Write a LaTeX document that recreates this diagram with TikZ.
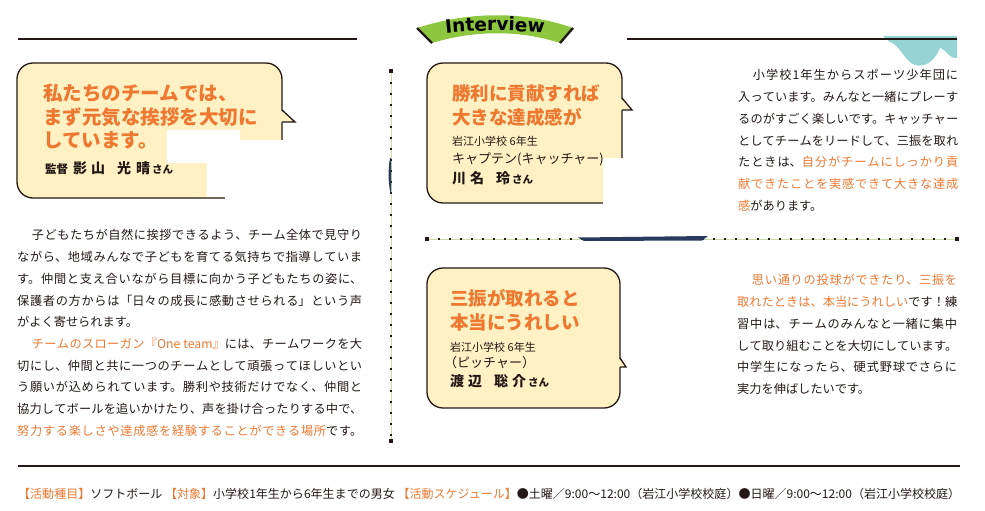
\documentclass[tikz,border=0pt]{standalone}
\usepackage{fontspec}
\usepackage{graphicx}
\setmainfont{Noto Sans CJK JP}
\newfontfamily\bannerfont{DejaVu Sans Bold}
\usetikzlibrary{decorations.text}
\XeTeXlinebreaklocale "ja"
\XeTeXlinebreakskip=0pt plus 1.5pt minus 0.6pt
\definecolor{accent}{RGB}{238,120,48}
\definecolor{bubblefill}{RGB}{255,241,196}
\definecolor{inkblack}{RGB}{35,24,21}
\definecolor{bannergreen}{RGB}{141,198,63}
\definecolor{dotgreen}{RGB}{200,222,160}
\definecolor{splash}{RGB}{150,212,212}
\definecolor{photoblue}{RGB}{40,58,95}
\newcommand\hl[1]{\textcolor{accent}{#1}}
\tikzset{
  bubble/.style={draw=inkblack, line width=1.3pt, fill=bubblefill, rounded corners=16pt},
  tailfill/.style={fill=bubblefill},
  tailline/.style={draw=inkblack, line width=1.3pt, line join=miter},
  cutout/.style={fill=white},
  rule/.style={draw=inkblack, line width=1.7pt},
  bannerend/.style={draw=inkblack, line width=2.4pt},
  dotline/.style={draw=dotgreen, line width=0.7pt},
  dots/.style={draw=inkblack, line width=2.4pt, dash pattern=on 2.4pt off 8.6pt},
  dotend/.style={fill=inkblack, inner sep=0pt, minimum size=4pt},
  title/.style={anchor=base west, inner sep=0pt, text=accent, font=\fontsize{18.5}{22}\selectfont\bfseries},
  grade/.style={anchor=base west, inner sep=0pt, text=inkblack, font=\fontsize{11}{13}\selectfont},
  role/.style={anchor=base west, inner sep=0pt, text=inkblack, font=\fontsize{13}{15}\selectfont},
  person/.style={anchor=base west, inner sep=0pt, text=inkblack, font=\fontsize{14}{16}\selectfont\bfseries},
  para/.style={anchor=north west, inner sep=0pt, text=inkblack, align=justify,
    font=\fontsize{12.2}{21.7}\selectfont,
    execute at begin node={\tolerance=10000 \parskip=0pt\relax}},
}
\begin{document}
\begin{tikzpicture}[x=1pt, y=-1pt]
  \useasboundingbox (0,0) rectangle (985,511);

  % header rules and banner
  \fill[splash] (883,36) -- (957,36) -- (957,58) .. controls (951,60) and (946,50) .. (940,48)
    .. controls (935,60) and (926,68) .. (915,65) .. controls (905,62) and (900,45) .. (890,42) -- cycle;
  \draw[rule] (18,39) -- (357,39);
  \draw[rule] (627,39) -- (957,39);
  \fill[bannergreen] (417,28) .. controls (470,11) and (525,11) .. (573,28) -- (560,43)
    .. controls (520,30) and (475,30) .. (432,43) -- cycle;
  \draw[bannerend] (417,28) -- (432,43);
  \draw[bannerend] (573,28) -- (560,43);
  \path[decorate, decoration={text along path, text align=center,
      text={|\bannerfont\fontsize{18.5}{18.5}\selectfont|Interview}}]
    (426,36) .. controls (470,29) and (522,29) .. (564,36);

  % separators
  \coordinate (sepTop) at (391,71);
  \coordinate (sepBot) at (391,441);
  \coordinate (midLeft) at (427,239);
  \coordinate (midRight) at (957,239);
  \draw[dotline] (sepTop) -- (sepBot);
  \draw[dots] (sepTop) -- (sepBot);
  \node[dotend] (sepTopEnd) at (sepTop) {};
  \node[dotend] (sepBotEnd) at (sepBot) {};
  \draw[dotline] (midLeft) -- (midRight);
  \draw[dots] (midLeft) -- (midRight);
  \node[dotend] (midLeftEnd) at (midLeft) {};
  \node[dotend] (midRightEnd) at (midRight) {};
  \fill[photoblue] (578,237.5) -- (708,236) -- (702,240.5) -- (584,241) -- cycle;
  \fill[photoblue] (390,158) .. controls (388,170) and (388,182) .. (390.5,193) -- (391,193) -- (391,158) -- cycle;

  % coach bubble
  \draw[bubble] (17,63) rectangle (282,198);
  \fill[tailfill] (280.4,110) -- (295,122) -- (280.4,122) -- cycle;
  \draw[tailline] (282,110) -- (295,122) -- (282,122);
  \node[title, font=\fontsize{19.5}{23}\selectfont\bfseries] (coachT1) at (43,100.5) {私たちのチームでは、};
  \node[title, font=\fontsize{19.5}{23}\selectfont\bfseries] (coachT2) at (43,124) {まず元気な挨拶を大切に};
  \node[title, font=\fontsize{19.5}{23}\selectfont\bfseries] (coachT3) at (43,147.5) {しています。};
  \node[person] (coachName) at (45,173) {{\fontsize{11.5}{13}\selectfont 監督}\hspace{5pt}影\hspace{4pt}山\hspace{12pt}光\hspace{5pt}晴\hspace{2pt}{\fontsize{10.5}{12}\selectfont さん}};
  \fill[cutout] (167,130) rectangle (240,163);
  \fill[cutout] (240,140) rectangle (300,210);
  \fill[cutout] (207,163) rectangle (240,196.6);
  \fill[cutout] (225,196) rectangle (240,210);

  % captain bubble
  \draw[bubble] (427,63) rectangle (622,203);
  \fill[tailfill] (620.4,98) -- (632,110) -- (620.4,110) -- cycle;
  \draw[tailline] (622,98) -- (632,110) -- (622,110);
  \node[title] (captT1) at (452,100) {勝利に貢献すれば};
  \node[title] (captT2) at (452,124) {大きな達成感が};
  \node[grade] (captGrade) at (452,145) {岩江小学校 6年生};
  \node[role] (captRole) at (452,163) {キャプテン(キャッチャー)};
  \node[person] (captName) at (452,183) {川\hspace{4pt}名\hspace{12pt}玲\hspace{2pt}{\fontsize{10.5}{12}\selectfont さん}};
  \fill[cutout] (603,158) rectangle (640,212);

  % pitcher bubble
  \draw[bubble] (427,268) rectangle (620,408);
  \fill[tailfill] (618.4,358) -- (626,367) -- (618.4,367) -- cycle;
  \draw[tailline] (620,358) -- (626,367) -- (620,367);
  \node[title] (pitchT1) at (450,305) {三振が取れると};
  \node[title] (pitchT2) at (450,329) {本当にうれしい};
  \node[grade] (pitchGrade) at (450,351) {岩江小学校 6年生};
  \node[role] (pitchRole) at (444,367) {（ピッチャー）};
  \node[person] (pitchName) at (450,386) {渡\hspace{4pt}辺\hspace{12pt}聡\hspace{4pt}介\hspace{2pt}{\fontsize{10.5}{12}\selectfont さん}};

  % body texts
  \node[para, text width=345pt] (coachText) at (17,229.4) {%
    \hspace*{1.2em}子どもたちが自然に挨拶できるよう、チーム全体で見守り\linebreak
    ながら、地域みんなで子どもを育てる気持ちで指導していま\linebreak
    す。仲間と支え合いながら目標に向かう子どもたちの姿に、\linebreak
    保護者の方からは「日々の成長に感動させられる」という声\linebreak
    がよく寄せられます。\par
    \hspace*{1.2em}\hl{チームのスローガン『One team』}には、チームワークを大\linebreak
    切にし、仲間と共に一つのチームとして頑張ってほしいとい\linebreak
    う願いが込められています。勝利や技術だけでなく、仲間と\linebreak
    協力してボールを追いかけたり、声を掛け合ったりする中で、\linebreak
    \hl{努力する楽しさや達成感を経験することができる場所}です。\parfillskip=0pt\par};
  \node[para, text width=220pt] (captText) at (738,69.4) {%
    \hspace*{1.2em}小学校1年生からスポーツ少年団に\linebreak
    入っています。みんなと一緒にプレーす\linebreak
    るのがすごく楽しいです。キャッチャー\linebreak
    としてチームをリードして、三振を取れ\linebreak
    たときは、\hl{自分がチームにしっかり貢\linebreak
    献できたことを実感できて大きな達成\linebreak
    感}があります。};
  \node[para, text width=220pt] (pitchText) at (737,274.4) {%
    \hspace*{1.2em}\hl{思い通りの投球ができたり、三振を\linebreak
    取れたときは、本当にうれしい}です！練\linebreak
    習中は、チームのみんなと一緒に集中\linebreak
    して取り組むことを大切にしています。\linebreak
    中学生になったら、硬式野球でさらに\linebreak
    実力を伸ばしたいです。};

  % footer
  \draw[rule] (18,466) -- (960,466);
  \node[anchor=base west, inner sep=0pt, text=inkblack, font=\fontsize{12}{14}\selectfont] (infoLine) at (18,498.5)
    {\resizebox{942pt}{\height}{\hl{【活動種目】}ソフトボール \hl{【対象】}小学校1年生から6年生までの男女 \hl{【活動スケジュール】}●土曜／9:00～12:00（岩江小学校校庭）●日曜／9:00～12:00（岩江小学校校庭）}};
\end{tikzpicture}
\end{document}
